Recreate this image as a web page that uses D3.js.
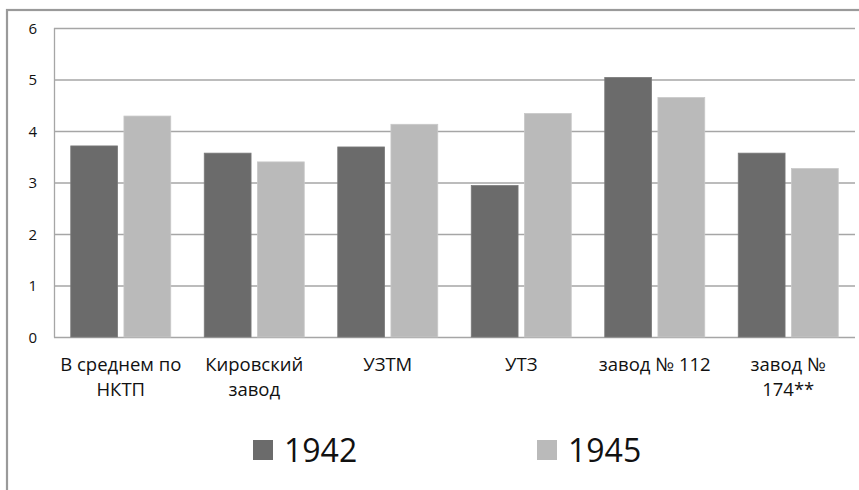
<!DOCTYPE html>
<html><head><meta charset="utf-8">
<script src="https://cdn.jsdelivr.net/npm/d3@7"></script>
<style>
html,body{margin:0;padding:0;background:#fff;}
svg{display:block;}
text{font-family:"Open Sans","Noto Sans",sans-serif;fill:#111;}
</style></head>
<body>
<svg id="c" width="859" height="490"></svg>
<script>
const categories = [["В среднем по","НКТП"],["Кировский","завод"],["УЗТМ"],["УТЗ"],["завод № 112"],["завод №","174**"]];
const seriesNames = ["1942","1945"];
const values1942 = [3.71, 3.57, 3.69, 2.94, 5.04, 3.57];
const values1945 = [4.29, 3.40, 4.13, 4.34, 4.65, 3.27];
const yTicks = [0,1,2,3,4,5,6];
const colors = ["#6b6b6b","#bababa"];

(function(){
const svg = d3.select("#c");
// outer frame
svg.append("rect").attr("x",7).attr("y",10).attr("width",900).attr("height",600)
  .attr("fill","#fff").attr("stroke","#9a9a9a").attr("stroke-width",2.2);

const pL=54, pR=855, pT=28, pB=337;
const x = d3.scaleBand().domain(d3.range(categories.length)).range([pL,pR]);
const y = d3.scaleLinear().domain([0,6]).range([pB,pT]);
const inner = d3.scaleBand().domain([0,1]).range([0,100]).paddingInner(0.12);

// gridlines
svg.append("g").selectAll("line").data(yTicks).join("line")
  .attr("x1",pL).attr("x2",pR).attr("y1",d=>y(d)+0.5).attr("y2",d=>y(d)+0.5)
  .attr("stroke","#a6a6a6").attr("stroke-width",1.3);
// left axis line
svg.append("line").attr("x1",pL+0.5).attr("x2",pL+0.5).attr("y1",pT).attr("y2",pB+0.5)
  .attr("stroke","#a6a6a6").attr("stroke-width",1.3);

// y tick labels
svg.append("g").selectAll("text").data(yTicks).join("text")
  .attr("x",37).attr("y",d=>y(d)+5.5).attr("text-anchor","end")
  .style("font-size","15px").text(d=>d);

// bars
const series = [values1942, values1945];
const groupOffset = (x.bandwidth()-100)/2;
series.forEach((vals,si)=>{
  svg.append("g").selectAll("rect").data(vals).join("rect")
    .attr("x",(d,i)=>x(i)+groupOffset+inner(si))
    .attr("width",inner.bandwidth())
    .attr("y",d=>y(d)).attr("height",d=>y(0)-y(d))
    .attr("fill",colors[si])
    .attr("stroke",si===0?"#7a7a7a":"#c8c8c8").attr("stroke-width",0.8);
});

// category labels
const cl = svg.append("g").selectAll("text").data(categories).join("text")
  .attr("x",(d,i)=>x(i)+x.bandwidth()/2).attr("y",371)
  .attr("text-anchor","middle").style("font-size","18.5px");
cl.selectAll("tspan").data(d=>d).join("tspan")
  .attr("x",function(){return d3.select(this.parentNode).attr("x");})
  .attr("dy",(d,i)=>i===0?0:25).text(d=>d);

// legend
const legX = [253, 537];
seriesNames.forEach((n,i)=>{
  svg.append("rect").attr("x",legX[i]).attr("y",440).attr("width",20).attr("height",20).attr("fill",colors[i]);
  svg.append("text").attr("x",legX[i]+31).attr("y",462).style("font-size","32px").text(n);
});
})();
</script>
</body></html>
